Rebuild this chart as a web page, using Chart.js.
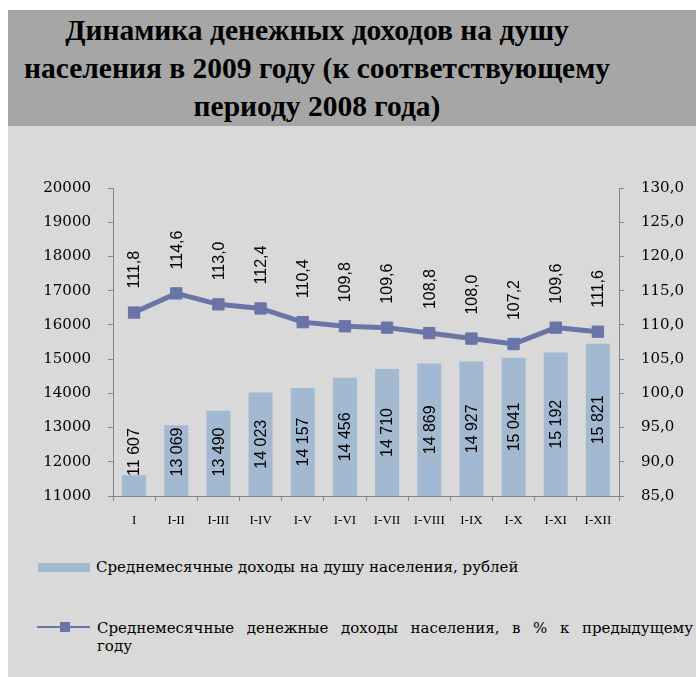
<!DOCTYPE html>
<html>
<head>
<meta charset="utf-8">
<script src="https://cdn.jsdelivr.net/npm/chart.js@4"></script>
<style>
  body { margin:0; background:#fff; width:696px; height:677px; position:relative; overflow:hidden; }
  .band { position:absolute; left:8px; top:10px; width:688px; height:116px; background:#a6a6a6; }
  .title { position:absolute; left:8px; top:11px; width:618px; text-align:center;
    font:bold 29.5px 'Liberation Serif', serif; line-height:38px; color:#000; white-space:nowrap; }
  .panel { position:absolute; left:8px; top:126px; width:688px; height:551px; background:#d9d9d9; }
  #chart { position:absolute; left:8px; top:126px; }
  .leg { position:absolute; font:15px 'DejaVu Serif', serif; color:#000; }
  .sw { position:absolute; left:38px; top:563px; width:52px; height:9px; background:#a3b9d1; }
  .ln { position:absolute; left:37px; top:626px; width:53px; height:2px; background:#6a74a6; }
  .mk { position:absolute; left:60px; top:622px; width:10px; height:10px; background:#6a74a6; }
  .j { text-align:justify; text-align-last:justify; }
</style>
</head>
<body>
<div class="band"></div>
<div class="title">Динамика денежных доходов на душу<br>населения в 2009 году (к соответствующему<br>периоду 2008 года)</div>
<div class="panel"></div>
<canvas id="chart" width="688" height="430"></canvas>
<div class="sw"></div>
<div class="leg" style="left:96px; top:558px;">Среднемесячные доходы на душу населения, рублей</div>
<div class="ln"></div><div class="mk"></div>
<div class="leg" style="left:97px; top:619px; width:596px; line-height:18px;">
  <div class="j">Среднемесячные денежные доходы населения, в % к предыдущему</div>
  <div>году</div>
</div>
<script>
const periods = ['I','I-II','I-III','I-IV','I-V','I-VI','I-VII','I-VIII','I-IX','I-X','I-XI','I-XII'];
// bar heights as drawn; the printed labels are kept separately (last bar is drawn lower than its label)
const incomeRub = [11607,13069,13490,14023,14157,14456,14710,14869,14927,15041,15192,15450];
const incomeLabels = ['11 607','13 069','13 490','14 023','14 157','14 456','14 710','14 869','14 927','15 041','15 192','15 821'];
const growthPct = [111.8,114.6,113.0,112.4,110.4,109.8,109.6,108.8,108.0,107.2,109.6,109.0];
const growthLabels = ['111,8','114,6','113,0','112,4','110,4','109,8','109,6','108,8','108,0','107,2','109,6','111,6'];

const C = { bar:'#a3b9d1', line:'#6a74a6', axis:'#868686', text:'#000' };

const valueLabels = {
  id:'valueLabels',
  afterDatasetsDraw(chart) {
    const ctx = chart.ctx, bottom = chart.chartArea.bottom;
    ctx.save();
    ctx.fillStyle = C.text;
    ctx.font = '16px "Liberation Sans", sans-serif';
    ctx.textBaseline = 'middle';
    chart.getDatasetMeta(1).data.forEach((b, i) => {
      const cy = Math.min((b.y + bottom) / 2, bottom - 44);
      ctx.save(); ctx.translate(b.x, cy); ctx.rotate(-Math.PI/2);
      ctx.textAlign = 'center'; ctx.fillText(incomeLabels[i], 0, 1);
      ctx.restore();
    });
    chart.getDatasetMeta(0).data.forEach((p, i) => {
      ctx.save(); ctx.translate(p.x, p.y - 24); ctx.rotate(-Math.PI/2);
      ctx.textAlign = 'left'; ctx.fillText(growthLabels[i], 0, 1);
      ctx.restore();
    });
    ctx.restore();
  }
};

const axisGrid = { display:true, drawOnChartArea:false, drawTicks:true, tickLength:5, color:C.axis };

new Chart(document.getElementById('chart'), {
  data: {
    labels: periods,
    datasets: [
      { type:'line', label:'Среднемесячные денежные доходы населения, в % к предыдущему году',
        data:growthPct, yAxisID:'y1', order:0, borderColor:C.line, backgroundColor:C.line,
        borderWidth:5, tension:0, pointStyle:'rect', pointRadius:8, pointBorderWidth:1 },
      { type:'bar', label:'Среднемесячные доходы на душу населения, рублей',
        data:incomeRub, yAxisID:'y', order:1, backgroundColor:C.bar,
        barPercentage:0.57, categoryPercentage:1 }
    ]
  },
  options: {
    responsive:false, animation:false, devicePixelRatio:1,
    layout:{ padding:{ top:62, bottom:20, left:0, right:0 } },
    plugins:{ legend:{ display:false }, tooltip:{ enabled:false } },
    scales:{
      x:{ offset:true, grid:{ ...axisGrid, offset:true }, border:{ color:C.axis },
          ticks:{ color:C.text, font:{ family:'Liberation Serif', size:13 }, padding:12, maxRotation:0, autoSkip:false },
          afterFit:s => { s.height = 40; } },
      y:{ position:'left', min:11000, max:20000, grid:axisGrid, border:{ color:C.axis },
          ticks:{ stepSize:1000, color:C.text, font:{ family:'DejaVu Serif', size:15 }, padding:17,
                  callback:v => String(v) },
          afterFit:s => { s.width = 105; } },
      y1:{ position:'right', min:85, max:130, grid:axisGrid, border:{ color:C.axis },
          ticks:{ stepSize:5, color:C.text, font:{ family:'DejaVu Serif', size:15 }, padding:17,
                  callback:v => v.toFixed(1).replace('.', ',') },
          afterFit:s => { s.width = 77; } }
    }
  },
  plugins:[valueLabels]
});
</script>
</body>
</html>
